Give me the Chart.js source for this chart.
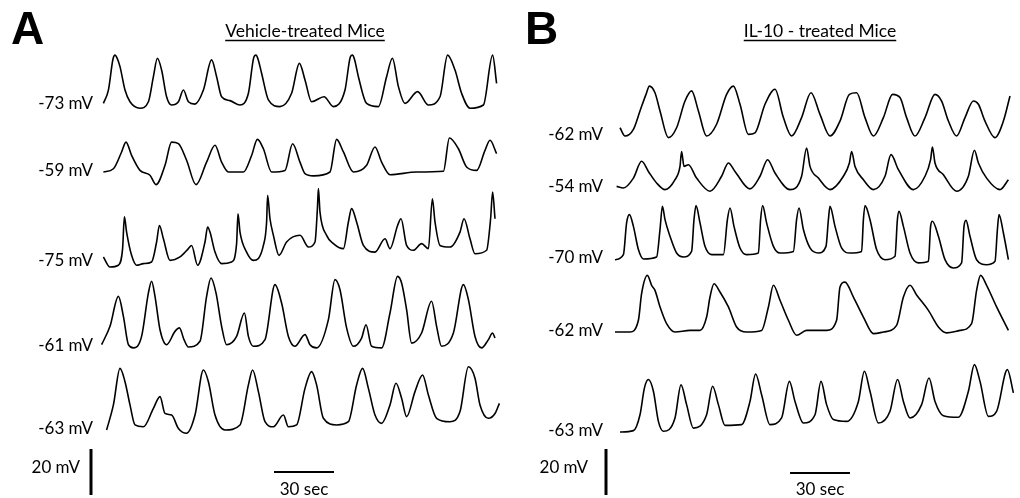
<!DOCTYPE html>
<html>
<head>
<meta charset="utf-8">
<script src="https://cdn.jsdelivr.net/npm/chart.js@4.4.0/dist/chart.umd.min.js"></script>
<style>
  body { margin: 0; background: #fff; width: 1020px; height: 498px; overflow: hidden; position: relative; }
  .panel { position: absolute; top: 0; width: 510px; height: 498px; }
</style>
</head>
<body>
<div class="panel" style="left:0"><canvas id="chartA" width="510" height="498"></canvas></div>
<div class="panel" style="left:510px"><canvas id="chartB" width="510" height="498"></canvas></div>
<script>
// titles / labels
const vehicleTitle = 'Vehicle-treated Mice';
const il10Title = 'IL-10 - treated Mice';
const vehicleRest = [-73, -59, -75, -61, -63];
const il10Rest = [-62, -54, -70, -62, -63];
const scaleBarMv = 20;
const scaleBarSec = 30;

// traces, [time (s), membrane potential (mV)]
const vehicle1 = [[1.7,-72.3],[4.2,-66.5],[6.5,-53],[7.5,-51.3],[8.5,-52.5],[10,-56.3],[12.5,-66.5],[15,-71.6],[20,-74.4],[24.2,-71.6],[26.7,-60.7],[28.7,-52.7],[30.8,-57.8],[33.3,-69.4],[35.8,-73],[39.2,-71.6],[41.7,-66.5],[44.2,-71.6],[47.5,-72.6],[51.7,-66.5],[55.8,-53.4],[58.3,-60.7],[60.8,-69.4],[65,-71.1],[70,-73],[74.2,-67.9],[77,-52],[78,-51.3],[79,-53],[80.8,-59.2],[84.2,-70.8],[90,-73.7],[95.8,-67.9],[99.7,-54.9],[102.5,-62.1],[105.8,-71.6],[112,-69.4],[116.7,-73.7],[122.5,-66.5],[125.2,-52],[126.2,-51.3],[127.2,-53],[129.2,-60.7],[133.3,-72.3],[139.2,-73.7],[143.3,-60.7],[146.2,-52.7],[149.2,-65],[152.5,-72.3],[158.8,-67.2],[164.2,-73],[170,-69.4],[173.8,-51.3],[177.5,-57.8],[180.8,-67.9],[185,-74.4],[191.7,-73],[196.3,-51.3],[198.3,-63.6]];
const vehicle2 = [[1.7,-59],[6.7,-57.6],[10.8,-50.3],[13,-46],[15.8,-51.8],[20,-58.3],[25,-60.4],[28,-64.5],[32.5,-56.1],[35.8,-46],[39.2,-46.7],[43.3,-53.9],[48,-64.5],[53.3,-54.7],[57.5,-47.4],[60.8,-54.7],[64.2,-59],[71.7,-59],[75.8,-51.8],[78.7,-44.8],[81.7,-48.9],[85.8,-59],[92.5,-58.3],[96.3,-46.7],[100,-54.7],[102.5,-59.7],[106.7,-60.7],[115,-59],[118.3,-44.8],[121.7,-50.3],[126.7,-59],[133.3,-56.1],[137.5,-48.1],[140.8,-54.7],[145,-60.2],[158.3,-59],[171.7,-58.7],[174.7,-44.2],[179.2,-48.9],[183.3,-56.8],[188.3,-58.3],[192.5,-49.6],[195,-45.2],[198.3,-51]];
const vehicle3 = [[1.7,-72.8],[5,-77.2],[9.2,-76.4],[11.3,-69.2],[12.2,-55.4],[13.3,-62],[15.8,-72.1],[18.3,-76.4],[21.7,-75.7],[25.8,-75],[28.3,-66.3],[29.7,-59.1],[31.7,-64.9],[35,-74.3],[40,-72.8],[44.2,-69.2],[45.8,-67.8],[48.8,-76.4],[52.5,-66.3],[53.8,-59.8],[55,-62],[57.5,-70.7],[60.8,-75.7],[65.8,-75],[68.3,-67],[69,-54],[70,-62],[73.3,-70.7],[76.7,-74.3],[81.7,-67.8],[83.3,-57.6],[83.8,-46],[85,-56.2],[86.7,-63.4],[89.5,-72.1],[93.3,-66.3],[100,-63.4],[104.2,-68.5],[107.5,-66.3],[108.7,-51.8],[109.2,-43.1],[110,-53.3],[113.3,-63.4],[116.7,-67],[121.7,-69.2],[124.2,-57.6],[125.8,-51.8],[128.3,-57.6],[131.7,-67.8],[137.5,-70.7],[142.5,-64.9],[145,-69.2],[148.8,-59.1],[150.5,-56.2],[153.3,-67.8],[156.7,-69.9],[160.8,-67],[164.2,-69.2],[166.2,-47.5],[167.5,-57.6],[170,-67.8],[175,-68.5],[180,-62],[182,-56.2],[185,-64.9],[187.5,-71.4],[193.3,-69.9],[195.3,-56.2],[196.3,-44.6],[197.5,-56.2]];
const vehicle4 = [[0.8,-60],[5,-52],[9.2,-39],[11.7,-47.7],[14.2,-60],[16.7,-61.4],[20.8,-56.4],[24.2,-37.5],[25.8,-32.4],[27.5,-39],[30,-53.5],[33.3,-60],[37.5,-54.2],[39.7,-52.7],[42,-57.8],[44.2,-61],[50,-58.5],[53.3,-39],[55.5,-31],[58,-37.5],[60.8,-52],[63.3,-60],[68.3,-56.4],[72.2,-46.2],[74.2,-56.4],[76.7,-60.7],[82.5,-57.8],[87.5,-33.9],[90.8,-41.9],[94.2,-56.4],[97.5,-60.7],[102.5,-55.6],[105,-60],[108.3,-61.4],[114.2,-49.1],[117.5,-31.7],[120,-36.1],[123.3,-52.7],[126.7,-60.7],[130.8,-57.1],[133,-51.3],[135.8,-60.7],[140.8,-61.4],[145,-46.2],[148.8,-30.3],[150.8,-33.2],[153.3,-44.8],[155.8,-59.3],[160.8,-54.9],[165.8,-41.1],[168.3,-52],[170.8,-60.7],[176.7,-54.9],[181.7,-33.9],[184.2,-40.4],[187.5,-56.4],[190.8,-61.4],[194.2,-57.8],[196.3,-54.9],[197.5,-57.1]];
const vehicle5 = [[3.3,-63],[6.7,-52.1],[10,-36.2],[12.5,-42],[15,-52.1],[17.5,-60.8],[21.7,-61.6],[26.7,-53.6],[30,-48.5],[32.5,-55.8],[35.8,-56.5],[39.2,-62.3],[43.3,-64.4],[47.5,-56.5],[51.7,-36.9],[54.2,-42],[57.5,-56.5],[62.5,-63],[70,-60.8],[74.2,-43.4],[76.3,-36.9],[79.2,-46.3],[82.5,-59.4],[86.7,-61.6],[91.7,-56.5],[94.2,-61.6],[98.3,-60.8],[102.5,-44.9],[105.8,-37.6],[108.3,-43.4],[111.7,-57.9],[118.3,-60.8],[124.2,-59.4],[128.3,-43.4],[131.3,-36.2],[134.2,-44.9],[137.5,-56.5],[140.8,-60.1],[145,-52.1],[148,-42.7],[150.8,-49.2],[153.3,-57.2],[157.5,-46.3],[161.3,-39.1],[164.2,-47.8],[168.3,-57.9],[175,-59.4],[180,-55],[184.2,-35.5],[187.5,-40.5],[190,-52.1],[194.2,-57.9],[197.5,-55.8],[199.7,-51.4]];

const il10_1 = [[5,-58.4],[7.5,-62],[11.7,-59.1],[15,-51.1],[18,-43.9],[19.7,-40.3],[22.5,-43.2],[25,-51.1],[29.2,-62.7],[33.3,-58.4],[37.5,-46.8],[40.8,-42.4],[44.2,-51.1],[48.3,-62],[53.3,-56.9],[58.3,-43.9],[61.7,-40.3],[65,-48.2],[69.2,-61.3],[72.5,-60.6],[77.5,-48.2],[82.5,-41.7],[86.7,-54],[90.8,-62],[95.8,-54],[100.5,-43.2],[105,-52.6],[110,-62],[115,-55.5],[119.7,-43.9],[123.3,-43.2],[127.5,-54],[131.7,-62],[136.7,-54],[141.3,-43.9],[145,-45.3],[148.3,-54],[152.5,-62],[157.5,-54],[162.5,-43.9],[165.8,-46.8],[169.2,-55.5],[173.3,-62],[177.5,-54],[181.7,-46.8],[184.2,-48.2],[187.5,-55.5],[192.5,-62.7],[196.7,-55.5],[200,-44.6]];
const il10_2 = [[3.3,-53.3],[6.7,-54],[11.7,-49.7],[15.8,-42.4],[19.2,-46.8],[23.3,-51.8],[27.5,-54.7],[32.5,-50.4],[35,-44.6],[35.8,-38.1],[37,-44.6],[39.2,-43.9],[43.3,-49.7],[50,-55.4],[55.8,-48.9],[59.2,-43.1],[62.5,-46.8],[70,-54.4],[75,-48.9],[78.8,-41.7],[82.5,-47.5],[90,-54.7],[95.8,-48.9],[98.3,-36.6],[100,-44.6],[104.2,-49.7],[110,-54.7],[116.7,-48.9],[119.7,-43.1],[120.8,-38.1],[122.5,-44.6],[126.7,-50.4],[131.7,-54.7],[137.5,-48.9],[140.5,-39.5],[144.2,-46],[151.7,-54.7],[157.5,-48.9],[160.3,-41.7],[161.2,-36.2],[162.5,-43.1],[166.7,-48.2],[173.3,-55.4],[179.2,-48.9],[182.2,-37.6],[184.2,-43.1],[188.3,-49.7],[195,-54.7],[199.2,-50.4]];
const il10_3 = [[2.5,-70.3],[6.7,-68.1],[8.3,-54.3],[9.7,-50.7],[11.7,-55.8],[14.2,-65.9],[16.7,-70],[23.3,-69.1],[25,-57.2],[26.2,-47.1],[27.5,-52.9],[30,-60.1],[33.3,-67.4],[36.7,-69.1],[40.8,-66.7],[42,-52.9],[43,-46.8],[45,-54.3],[47.5,-64.5],[50.8,-68.1],[56.7,-68.1],[58.7,-52.9],[60,-47.8],[62,-55.8],[65,-65.2],[68.3,-68.1],[74.2,-67.4],[75.3,-52.9],[76.3,-46.8],[78.3,-54.3],[81.7,-64.5],[85,-67.4],[91.7,-66.7],[93.3,-52.9],[94.5,-47.8],[96.7,-57.2],[100,-65.2],[104.2,-67.4],[108,-64.5],[109.2,-52.9],[110,-47.1],[112.5,-55.8],[115.8,-65.2],[120,-67.4],[125.8,-66.7],[126.7,-52.9],[127.5,-46.8],[130,-52.9],[133.3,-65.9],[137.5,-70.3],[142.5,-68.8],[143.7,-52.9],[144.5,-49.3],[146.7,-55.8],[150,-67.4],[154.2,-71.7],[159.2,-71],[160.3,-55.8],[161.2,-53.6],[164.2,-60.1],[167.5,-70.3],[171.7,-73.9],[175.8,-71.7],[177,-55.8],[178,-53.2],[180,-60.1],[183.3,-70.3],[188.3,-72.5],[192.5,-71],[193.7,-57.2],[194.5,-50.7],[196.7,-58.7],[199.2,-70.3]];
const il10_4 = [[2.5,-62],[10,-62],[14.2,-56.9],[15.8,-45.3],[18.7,-37.4],[20.8,-41.7],[22.5,-43.9],[25,-51.1],[28.3,-58.4],[32.5,-62],[40,-61.3],[45,-61.3],[48.3,-55.5],[50,-46.8],[52,-41],[55,-44.6],[59.2,-51.1],[63.3,-59.8],[68.3,-62],[75.8,-61.3],[79.2,-51.1],[81.7,-41.7],[85,-48.2],[89.2,-56.9],[93.3,-63.4],[98.3,-61.3],[108.3,-61.3],[113.3,-56.9],[115,-42.4],[117.5,-40.3],[121.7,-46.8],[126.7,-55.5],[131.7,-62.7],[136.7,-62],[143.3,-59.1],[146.7,-46.8],[150,-41.7],[153.3,-45.9],[159.2,-52.6],[164.2,-59.8],[168.3,-62.4],[175,-61.3],[180.8,-58.4],[183.3,-43.9],[185.3,-37.4],[188.3,-41.7],[193.3,-51.1],[199.2,-61.3]];
const il10_5 = [[5,-63],[11.7,-62.4],[15,-55.5],[17.2,-43.9],[19.2,-40.2],[21.7,-45.3],[24.2,-58.4],[26.7,-62.7],[32.5,-56.9],[35.5,-42.5],[38.3,-51.1],[41.7,-61.3],[48.3,-55.5],[51.3,-43.1],[54.2,-51.1],[57.5,-60.1],[65.8,-59.8],[70,-49.7],[72.8,-37.8],[75.8,-46.8],[80,-59.8],[85.8,-56.9],[89.7,-41],[92.5,-49.7],[96.7,-59.1],[102.5,-55.5],[105.5,-41],[108.3,-51.1],[111.7,-57.6],[118.3,-58.4],[124.2,-49.7],[127.2,-36.6],[130,-45.3],[134.2,-59.1],[140,-54],[143.8,-40.2],[146.7,-49.7],[150,-56.9],[155.8,-51.1],[159.5,-39.5],[162.5,-49.7],[166.7,-55.9],[174.2,-56.6],[179.2,-45.3],[182.2,-33.7],[185,-41],[189.2,-56.2],[193.3,-54],[198.7,-35.9],[201.7,-46]];

// layout
const PX_PER_MV = 2.3;
const FONT = 'Lato, "Open Sans", sans-serif';

const panels = [
  { id: 'chartA', letter: 'A', title: vehicleTitle, rest: vehicleRest,
    traces: [vehicle1, vehicle2, vehicle3, vehicle4, vehicle5],
    basePx: [105, 172, 262, 347, 430], letterX: 11, titleX: 305, labelRight: 93,
    vBarX: 91, vBarBottom: 495, mvRight: 80, hBarX: 274, hBarY: 472 },
  { id: 'chartB', letter: 'B', title: il10Title, rest: il10Rest,
    traces: [il10_1, il10_2, il10_3, il10_4, il10_5],
    basePx: [136, 188, 259, 332, 432], letterX: 15, titleX: 310, labelRight: 93,
    vBarX: 96, vBarBottom: 495, mvRight: 78, hBarX: 280, hBarY: 473 }
];

const decorPlugin = {
  id: 'decor',
  afterDraw(chart, args, opts) {
    const p = opts.panel;
    const ctx = chart.ctx;
    const xs = chart.scales.x;
    ctx.save();
    ctx.fillStyle = '#000';
    ctx.strokeStyle = '#000';

    // panel letter
    ctx.font = 'bold 46px "Liberation Sans", Arial, sans-serif';
    ctx.textAlign = 'left';
    ctx.textBaseline = 'alphabetic';
    ctx.fillText(p.letter, p.letterX, 44);

    // underlined title
    ctx.font = '17.5px ' + FONT;
    ctx.textAlign = 'center';
    ctx.fillText(p.title, p.titleX, 37);
    const w = ctx.measureText(p.title).width;
    ctx.lineWidth = 1.4;
    ctx.beginPath();
    ctx.moveTo(p.titleX - w / 2, 40.5);
    ctx.lineTo(p.titleX + w / 2, 40.5);
    ctx.stroke();

    // resting potential labels
    ctx.font = '17px ' + FONT;
    ctx.textAlign = 'right';
    ctx.textBaseline = 'middle';
    p.rest.forEach((r, i) => {
      const y = chart.scales['y' + i].getPixelForValue(r);
      ctx.fillText(r + ' mV', p.labelRight, y - 1);
    });

    // 20 mV bar
    const ys = chart.scales.y4;
    const barH = ys.getPixelForValue(0) - ys.getPixelForValue(scaleBarMv);
    ctx.lineWidth = 3;
    ctx.beginPath();
    ctx.moveTo(p.vBarX, p.vBarBottom);
    ctx.lineTo(p.vBarX, p.vBarBottom - barH);
    ctx.stroke();
    ctx.textAlign = 'right';
    ctx.fillText(scaleBarMv + ' mV', p.mvRight, 468);

    // 30 sec bar
    const barW = xs.getPixelForValue(scaleBarSec) - xs.getPixelForValue(0);
    ctx.lineWidth = 2;
    ctx.beginPath();
    ctx.moveTo(p.hBarX, p.hBarY);
    ctx.lineTo(p.hBarX + barW, p.hBarY);
    ctx.stroke();
    ctx.textAlign = 'center';
    ctx.fillText(scaleBarSec + ' sec', p.hBarX + barW / 2, 490);
    ctx.restore();
  }
};

panels.forEach(p => {
  const H = 498;
  const scales = { x: { type: 'linear', display: false, min: -50, max: 205 } };
  const datasets = p.traces.map((tr, i) => {
    const top = p.rest[i] + p.basePx[i] / PX_PER_MV;
    scales['y' + i] = { type: 'linear', display: false, min: top - H / PX_PER_MV, max: top };
    return {
      data: tr.map(pt => ({ x: pt[0], y: pt[1] })),
      yAxisID: 'y' + i,
      borderColor: '#000',
      borderWidth: 1.6,
      pointRadius: 0,
      cubicInterpolationMode: 'monotone',
      fill: false
    };
  });
  new Chart(document.getElementById(p.id), {
    type: 'line',
    data: { datasets: datasets },
    options: {
      responsive: false,
      devicePixelRatio: 1,
      animation: false,
      layout: { padding: 0 },
      scales: scales,
      plugins: { legend: { display: false }, tooltip: { enabled: false }, decor: { panel: p } }
    },
    plugins: [decorPlugin]
  });
});
</script>
</body>
</html>
